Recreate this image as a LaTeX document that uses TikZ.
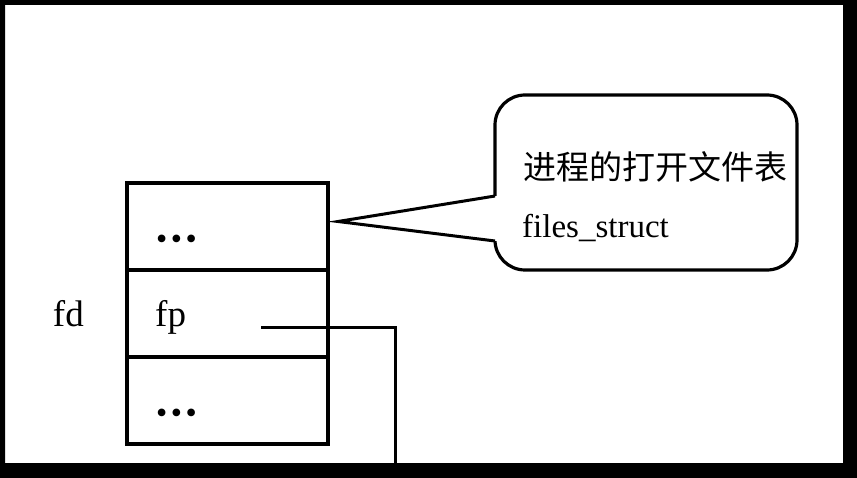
\documentclass[tikz,border=0pt]{standalone}
\usepackage{fontspec}
\setmainfont{Liberation Serif}
\newfontfamily\cjk{Noto Sans CJK SC}
\usetikzlibrary{positioning,calc}

\begin{document}
\begin{tikzpicture}[x=1pt, y=-1pt,
  cellbox/.style={draw, line width=3.2pt, minimum width=201pt, minimum height=87pt, outer sep=0pt, inner sep=0pt},
  bubble/.style={draw, line width=3.2pt, rounded corners=30pt, minimum width=302pt, minimum height=175pt, outer sep=0pt, inner sep=0pt},
  lbl/.style={inner sep=0pt, font=\fontsize{37}{40}\selectfont},
  dotrow/.style={inner sep=0pt, font=\fontsize{32}{34}\selectfont},
  notetext/.style={anchor=base west, inner sep=0pt},
  line/.style={line width=3pt}]
  \useasboundingbox (0,0) rectangle (857,478);
  % fd table: three stacked cells
  \node[cellbox] (cell1) at (227.5,226.5) {};
  \node[cellbox, below=0pt of cell1] (cell2) {};
  \node[cellbox, below=0pt of cell2] (cell3) {};
  \node[dotrow, right=29pt of cell1.west, yshift=-16pt] (dots1) {\textbullet\hspace{3.5pt}\textbullet\hspace{3.5pt}\textbullet};
  \node[dotrow, right=29pt of cell3.west, yshift=-16pt] (dots3) {\textbullet\hspace{3.5pt}\textbullet\hspace{3.5pt}\textbullet};
  \node[lbl, right=28pt of cell2.west, yshift=-4pt] (fp) {fp};
  \node[lbl, left=43pt of cell2.west] (fd) {fd};
  % line out of fp, running down off the page
  \coordinate (fpout) at (261,328);
  \coordinate (fpdown) at (395,478);
  \draw[line] (fpout) -| (fpdown);
  % Callout for files_struct
  \node[bubble] (note) at (646,182.5) {};
  \node[notetext, font=\cjk\fontsize{33}{36}\selectfont] (title) at (523,180) {进程的打开文件表};
  \node[notetext, font=\fontsize{33}{36}\selectfont] (fs) at (522,238) {files\_struct};
  \coordinate (tip) at ([shift={(10pt,5pt)}]cell1.east);
  \coordinate (ptop) at ([yshift=-13.5pt]note.west);
  \coordinate (pbot) at ([yshift=-58.5pt]note.west);
  \fill[white] ([xshift=2pt]ptop) -- (tip) -- ([xshift=2pt]pbot) -- cycle;
  \draw[line] (ptop) -- (tip) -- (pbot);
  % black frame
  \fill[black, even odd rule] (0,0) rectangle (857,478) (5,5) rectangle (843,463);
\end{tikzpicture}
\end{document}
